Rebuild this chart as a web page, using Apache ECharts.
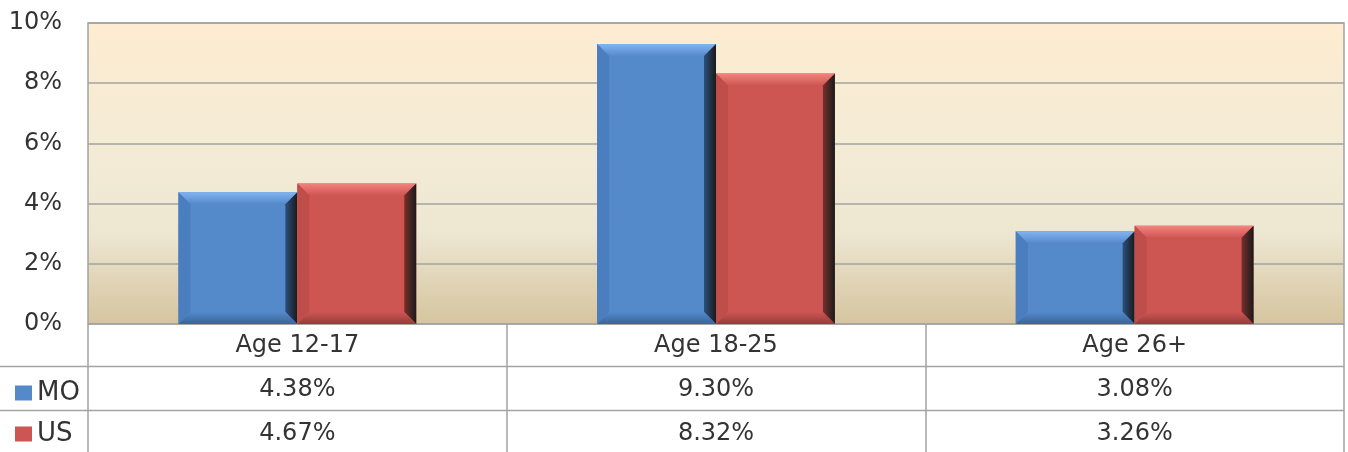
<!DOCTYPE html>
<html>
<head>
<meta charset="utf-8">
<script src="https://cdn.jsdelivr.net/npm/echarts@6/dist/echarts.min.js"></script>
<style>
  html, body { margin: 0; padding: 0; background: #fff; }
  #chart { width: 1348px; height: 452px; }
</style>
</head>
<body>
<div id="chart"></div>
<script>
// data
const categories = ['Age 12-17', 'Age 18-25', 'Age 26+']
const moValues = [4.38, 9.30, 3.08]
const usValues = [4.67, 8.32, 3.26]
const yTicks = [0, 2, 4, 6, 8, 10]

const FONT = 'DejaVu Sans'
const TEXT = '#333333'
const LINE = '#a3a3a3'

const chart = echarts.init(document.getElementById('chart'))

// 3D bevel look for each bar
const blue = { face: '#5489ca', top: '#82b4f2', left: '#4b7ebf', right: '#2b4f7c', bottom: '#3b6499' }
const red = { face: '#cd5653', top: '#f4827d', left: '#bf4d4a', right: '#76302d', bottom: '#963b38' }

function bevelBar (c, side) {
  return function (params, api) {
    const idx = api.value(0)
    const top = api.coord([idx, api.value(1)])
    const base = api.coord([idx, 0])
    const w = api.size([1, 0])[0] * 0.284
    const x0 = side < 0 ? top[0] - w : top[0]
    const x1 = x0 + w
    const y0 = top[1]
    const y1 = base[1]
    const b = Math.min(12, (y1 - y0) / 2, w / 2)
    const poly = (pts, fill) => ({ type: 'polygon', shape: { points: pts }, style: { fill: fill } })
    const grad = (x, y, x2, y2, a, z) => new echarts.graphic.LinearGradient(x, y, x2, y2, [
      { offset: 0, color: a }, { offset: 1, color: z }
    ])
    return {
      type: 'group',
      children: [
        { type: 'rect', shape: { x: x0, y: y0, width: w, height: y1 - y0 }, style: { fill: c.face } },
        poly([[x0, y0], [x1, y0], [x1 - b, y0 + b], [x0 + b, y0 + b]], grad(0, 0, 0, 1, c.top, c.face)),
        poly([[x0, y0], [x0 + b, y0 + b], [x0 + b, y1 - b], [x0, y1]], c.left),
        poly([[x1, y0], [x1, y1], [x1 - b, y1 - b], [x1 - b, y0 + b]], grad(0, 0, 1, 0, c.right, '#1a1a1a')),
        poly([[x0, y1], [x0 + b, y1 - b], [x1 - b, y1 - b], [x1, y1]], grad(0, 0, 0, 1, c.face, c.bottom))
      ]
    }
  }
}

const fmt = v => v.toFixed(2) + '%'

const option = {
  backgroundColor: '#fff',
  animation: false,
  textStyle: { fontFamily: FONT },
  legend: {
    orient: 'vertical',
    left: 10,
    top: 375,
    itemWidth: 17,
    itemHeight: 15,
    itemGap: 15,
    textStyle: { fontSize: 26, color: TEXT, fontFamily: FONT },
    data: [
      { name: 'MO', icon: 'rect', itemStyle: { color: blue.face } },
      { name: 'US', icon: 'rect', itemStyle: { color: red.face } }
    ]
  },
  grid: {
    left: 88,
    right: 4,
    top: 23,
    bottom: 128,
    show: true,
    borderColor: LINE,
    borderWidth: 1.5,
    backgroundColor: new echarts.graphic.LinearGradient(0, 0, 0, 1, [
      { offset: 0, color: '#fdecd0' },
      { offset: 0.45, color: '#f3ebd6' },
      { offset: 0.7, color: '#ede6d1' },
      { offset: 1, color: '#d5c49e' }
    ])
  },
  xAxis: [
    {
      type: 'category',
      data: categories,
      position: 'bottom',
      axisLine: { show: false },
      axisTick: { show: true, length: 130, lineStyle: { color: LINE, width: 1.5 } },
      axisLabel: { fontSize: 24, color: TEXT, margin: 10, lineHeight: 24 }
    },
    {
      type: 'category',
      data: moValues.map(fmt),
      position: 'bottom',
      offset: 44,
      axisLine: { show: false },
      axisTick: { show: false },
      axisLabel: { fontSize: 24, color: TEXT, margin: 10, lineHeight: 24 }
    },
    {
      type: 'category',
      data: usValues.map(fmt),
      position: 'bottom',
      offset: 88,
      axisLine: { show: false },
      axisTick: { show: false },
      axisLabel: { fontSize: 24, color: TEXT, margin: 10, lineHeight: 24 }
    }
  ],
  yAxis: {
    type: 'value',
    min: yTicks[0],
    max: yTicks[yTicks.length - 1],
    interval: 2,
    axisLine: { show: false },
    axisTick: { show: false },
    axisLabel: { fontSize: 24, color: TEXT, margin: 26, formatter: '{value}%' },
    splitLine: { lineStyle: { color: LINE, width: 1.5 } }
  },
  graphic: [
    { type: 'line', shape: { x1: 0, y1: 366.5, x2: 1344, y2: 366.5 }, style: { stroke: LINE, lineWidth: 1.5 } },
    { type: 'line', shape: { x1: 0, y1: 410.5, x2: 1344, y2: 410.5 }, style: { stroke: LINE, lineWidth: 1.5 } }
  ],
  series: [
    {
      name: 'MO',
      type: 'custom',
      itemStyle: { color: blue.face },
      renderItem: bevelBar(blue, -1),
      encode: { x: 0, y: 1 },
      data: moValues.map((v, i) => [i, v])
    },
    {
      name: 'US',
      type: 'custom',
      itemStyle: { color: red.face },
      renderItem: bevelBar(red, 1),
      encode: { x: 0, y: 1 },
      data: usValues.map((v, i) => [i, v])
    }
  ]
}

chart.setOption(option)
window.addEventListener('resize', () => chart.resize())
</script>
</body>
</html>
